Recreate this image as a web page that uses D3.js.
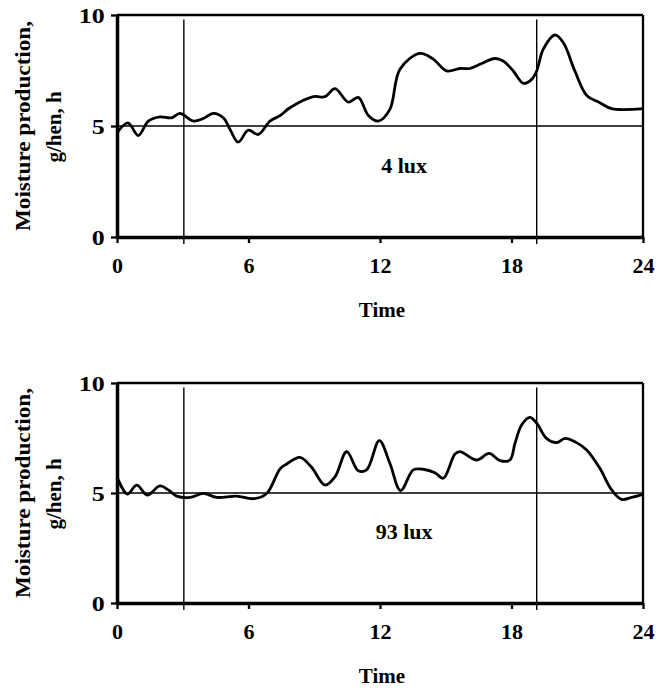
<!DOCTYPE html>
<html>
<head>
<meta charset="utf-8">
<script src="https://cdn.jsdelivr.net/npm/d3@7"></script>
<style>
  body { margin: 0; background: #fff; }
  svg { font-family: "Liberation Serif", "Times New Roman", serif; font-weight: bold; }
</style>
</head>
<body>
<svg width="658" height="690"></svg>
<script>
// hours
var time4 = [0, 0.5, 0.97, 1.43, 1.96, 2.49, 2.87, 3.48, 3.94, 4.39, 4.85, 5.16, 5.53, 5.99, 6.45, 6.98, 7.44, 7.89, 8.96, 9.49, 9.95, 10.55, 11.01, 11.47, 11.92, 12.45, 12.91, 13.82, 14.43, 15.04, 15.65, 16.10, 16.56, 17.24, 17.62, 18.08, 18.54, 18.92, 19.15, 19.45, 19.98, 20.36, 20.89, 21.43, 22.03, 22.57, 24];
var moist4 = [4.69, 5.14, 4.57, 5.22, 5.41, 5.37, 5.57, 5.22, 5.34, 5.57, 5.37, 4.84, 4.27, 4.81, 4.62, 5.22, 5.47, 5.82, 6.32, 6.32, 6.68, 6.08, 6.29, 5.47, 5.22, 5.75, 7.56, 8.27, 8.01, 7.48, 7.59, 7.59, 7.78, 8.04, 7.93, 7.48, 6.92, 7.10, 7.48, 8.46, 9.10, 8.76, 7.48, 6.38, 6.05, 5.78, 5.78];

var time93 = [0, 0.47, 0.90, 1.38, 1.96, 2.34, 2.72, 3.33, 3.94, 4.55, 5.46, 6.22, 6.83, 7.44, 7.74, 8.35, 8.88, 9.49, 9.95, 10.48, 11.01, 11.39, 11.97, 12.45, 12.94, 13.52, 13.97, 14.51, 14.89, 15.42, 15.65, 16.41, 16.98, 17.47, 17.93, 18.16, 18.46, 18.84, 19.15, 19.60, 20.06, 20.44, 20.97, 21.43, 22.03, 22.57, 23.02, 23.48, 24];
var moist93 = [5.74, 4.95, 5.36, 4.91, 5.32, 5.14, 4.86, 4.80, 4.98, 4.80, 4.86, 4.74, 4.98, 6.1, 6.32, 6.62, 6.17, 5.36, 5.74, 6.88, 6.01, 6.05, 7.38, 6.35, 5.11, 6.05, 6.08, 5.92, 5.67, 6.77, 6.88, 6.50, 6.80, 6.47, 6.50, 7.26, 8.09, 8.44, 8.17, 7.48, 7.29, 7.48, 7.29, 6.95, 6.12, 5.14, 4.71, 4.80, 4.94];

var xTicks = [0, 6, 12, 18, 24];
var yTicks = [0, 5, 10];
var lightChanges = [3.05, 19.15];   // light on / off
var refLevel = 5;
var panelLabels = ["4 lux", "93 lux"];
var yTitle = ["Moisture production,", "g/hen, h"];
var xTitle = "Time";

var svg = d3.select("svg");
var left = 117, right = 643;

var xScale = d3.scaleLinear().domain([0, 24]).range([left, right]);

function drawPanel(time, vals, label, top, bottom) {
  var yScale = d3.scaleLinear().domain([0, 10]).range([bottom, top]);
  var g = svg.append("g");

  // reference line at 5
  g.append("line")
    .attr("x1", xScale(0)).attr("x2", xScale(24))
    .attr("y1", yScale(refLevel)).attr("y2", yScale(refLevel))
    .attr("stroke", "#000").attr("stroke-width", 1.3);

  // light switching lines
  g.selectAll(".light")
    .data(lightChanges)
    .enter().append("line")
    .attr("class", "light")
    .attr("x1", d => xScale(d)).attr("x2", d => xScale(d))
    .attr("y1", yScale(9.8)).attr("y2", yScale(0) + 7)
    .attr("stroke", "#000").attr("stroke-width", 1.4);

  // top + right frame
  g.append("line")
    .attr("x1", xScale(0)).attr("x2", xScale(24))
    .attr("y1", yScale(10)).attr("y2", yScale(10))
    .attr("stroke", "#000").attr("stroke-width", 2.6);
  g.append("line")
    .attr("x1", xScale(24)).attr("x2", xScale(24))
    .attr("y1", yScale(10)).attr("y2", yScale(0))
    .attr("stroke", "#000").attr("stroke-width", 2.3);

  var line = d3.line()
    .x((d, i) => xScale(time[i]))
    .y(d => yScale(d))
    .curve(d3.curveCatmullRom.alpha(0.5));

  g.append("path")
    .datum(vals)
    .attr("d", line)
    .attr("fill", "none")
    .attr("stroke", "#000")
    .attr("stroke-width", 2.8)
    .attr("stroke-linejoin", "round");

  // axes
  var xAxis = d3.axisBottom(xScale).tickValues(xTicks).tickSize(6).tickSizeOuter(0).tickPadding(14);
  var yAxis = d3.axisLeft(yScale).tickValues(yTicks).tickSize(6).tickSizeOuter(0).tickPadding(7);

  var gx = g.append("g")
    .attr("transform", "translate(0," + yScale(0) + ")")
    .call(xAxis);
  gx.select(".domain").attr("stroke-width", 3.3);
  gx.selectAll(".tick line").attr("stroke-width", 2.3);
  gx.selectAll("text")
    .attr("font-size", "22px").attr("font-family", "Liberation Serif, serif")
    .attr("font-weight", "bold").attr("fill", "#000");

  var gy = g.append("g")
    .attr("transform", "translate(" + xScale(0) + ",0)")
    .call(yAxis);
  gy.select(".domain").attr("stroke-width", 3.5);
  gy.selectAll(".tick line").attr("stroke-width", 2.3);
  gy.selectAll("text")
    .attr("font-size", "22px").attr("font-family", "Liberation Serif, serif")
    .attr("font-weight", "bold").attr("fill", "#000")
    .attr("dy", "0.34em")
    .attr("transform", "translate(3,0) scale(1.18,1)");

  // panel label
  g.append("text")
    .attr("x", xScale(13.1))
    .attr("y", yScale(2.9))
    .attr("text-anchor", "middle")
    .attr("font-size", "22px")
    .text(label);

  // axis titles
  var mid = (top + bottom) / 2;
  g.append("text")
    .attr("transform", "translate(30," + mid + ") rotate(-90)")
    .attr("text-anchor", "middle")
    .attr("font-size", "21px")
    .attr("textLength", 210)
    .attr("lengthAdjust", "spacingAndGlyphs")
    .text(yTitle[0]);
  g.append("text")
    .attr("transform", "translate(61," + (mid + 1) + ") rotate(-90)")
    .attr("text-anchor", "middle")
    .attr("font-size", "21px")
    .text(yTitle[1]);

  g.append("text")
    .attr("x", (left + right) / 2 + 2)
    .attr("y", bottom + 80)
    .attr("text-anchor", "middle")
    .attr("font-size", "21px")
    .text(xTitle);
}

drawPanel(time4, moist4, panelLabels[0], 15, 237);
drawPanel(time93, moist93, panelLabels[1], 383, 603);
</script>
</body>
</html>
